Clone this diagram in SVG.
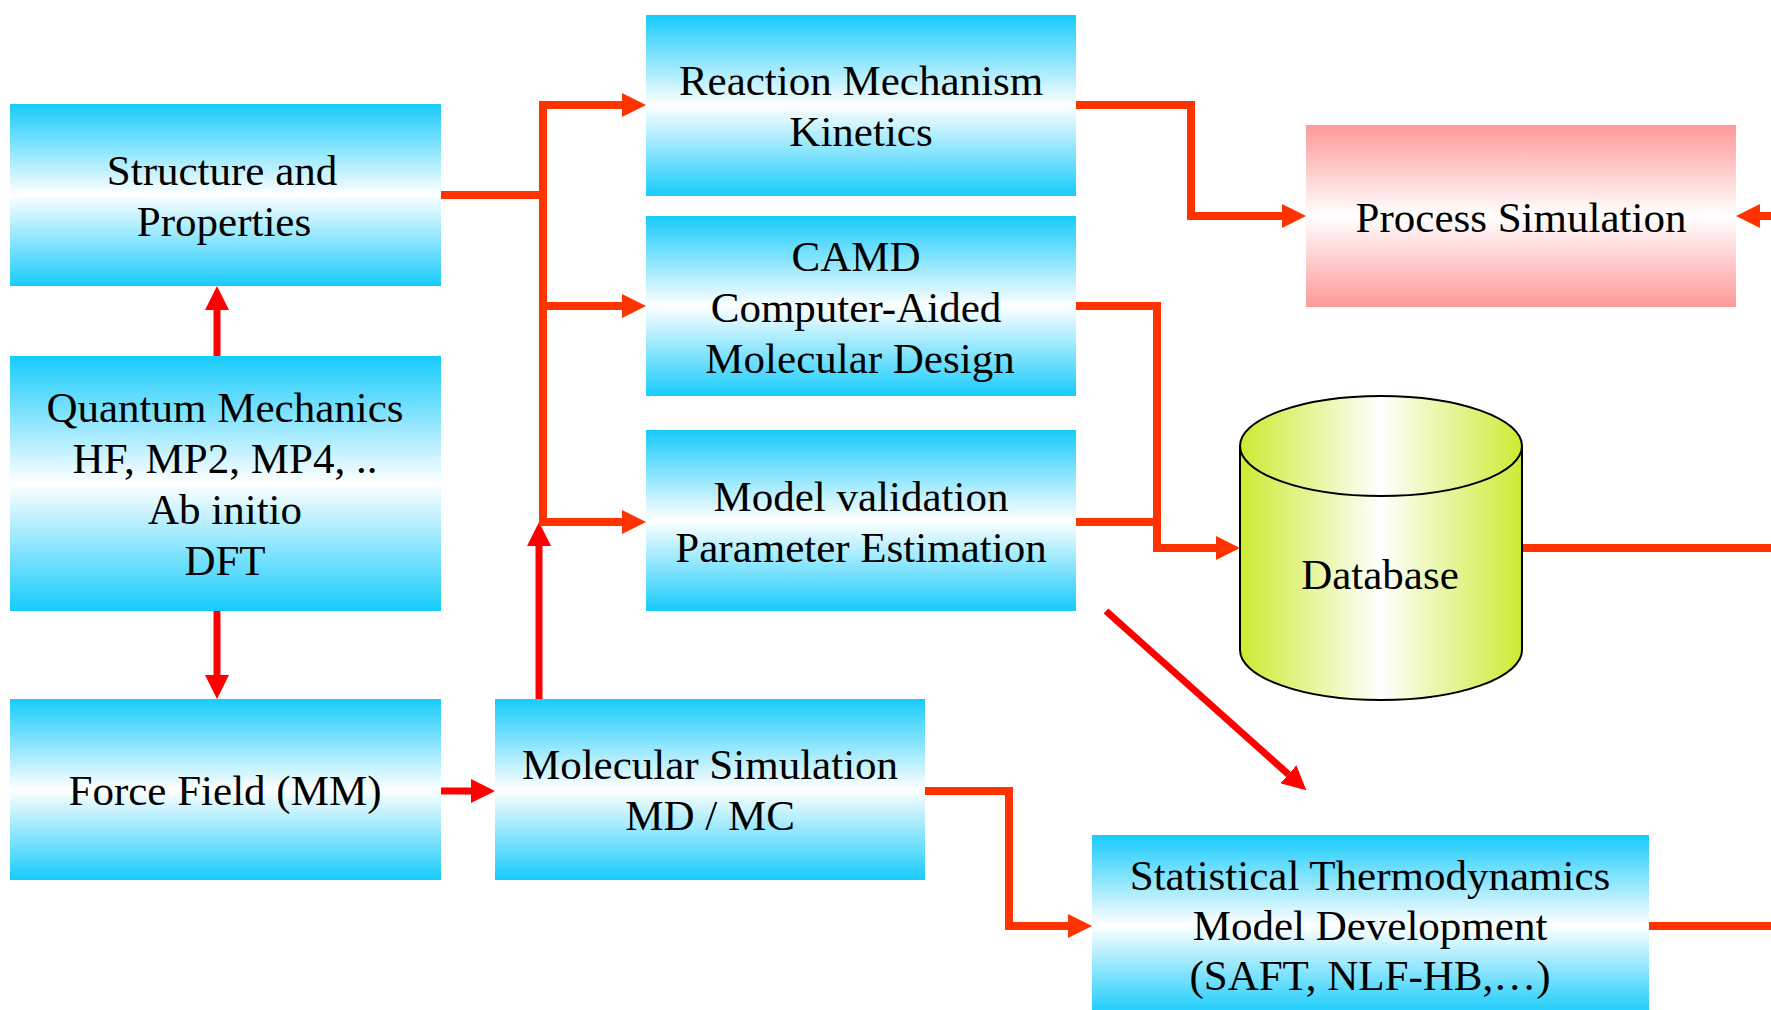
<svg xmlns="http://www.w3.org/2000/svg" width="1771" height="1010" viewBox="0 0 1771 1010">
  <defs>
    <linearGradient id="gBlue" x1="0" y1="0" x2="0" y2="1">
      <stop offset="0" stop-color="#17CBFB"/>
      <stop offset="0.5" stop-color="#FFFFFF"/>
      <stop offset="1" stop-color="#17CBFB"/>
    </linearGradient>
    <linearGradient id="gPink" x1="0" y1="0" x2="0" y2="1">
      <stop offset="0" stop-color="#FE9999"/>
      <stop offset="0.5" stop-color="#FFFFFF"/>
      <stop offset="1" stop-color="#FE9999"/>
    </linearGradient>
    <linearGradient id="gLime" x1="0" y1="0" x2="1" y2="0">
      <stop offset="0" stop-color="#CCEB33"/>
      <stop offset="0.5" stop-color="#FFFFFF"/>
      <stop offset="1" stop-color="#CCEB33"/>
    </linearGradient>
    <marker id="headOrange" viewBox="0 0 24 24" refX="0" refY="12" markerWidth="24" markerHeight="24" markerUnits="userSpaceOnUse" orient="auto">
      <path d="M0,0 L24,12 L0,24 Z" fill="#FF3300"/>
    </marker>
    <marker id="headRed" viewBox="0 0 24 24" refX="0" refY="12" markerWidth="24" markerHeight="24" markerUnits="userSpaceOnUse" orient="auto">
      <path d="M0,0 L24,12 L0,24 Z" fill="#FF0000"/>
    </marker>
    <style>
      .box { fill: url(#gBlue); }
      .pink { fill: url(#gPink); }
      .lbl { font-family: "Liberation Serif", "Times New Roman", serif; font-size: 43px; fill: #000; text-anchor: middle; }
      .wire { fill: none; stroke: #FF3300; stroke-width: 8; stroke-linejoin: miter; }
      .wire.a { marker-end: url(#headOrange); }
      .red { fill: none; stroke: #FF0000; stroke-width: 7; marker-end: url(#headRed); }
    </style>
  </defs>

  <!-- connectors -->
  <g id="connectors">
    <path class="red" d="M217,356 V310"/>
    <path class="red" d="M217,611 V675"/>
    <path class="red" d="M441,791 H471"/>
    <path class="red" d="M539,699 V546"/>
    <path class="wire" d="M441,195 H543"/>
    <path class="wire a" d="M543,526 V105 H622"/>
    <path class="wire a" d="M543,306 H622"/>
    <path class="wire a" d="M543,522 H622"/>
    <path class="wire a" d="M1076,105 H1191 V216 H1282"/>
    <path class="wire a" d="M1771,216 H1760"/>
    <path class="wire a" d="M1076,306 H1157 V548 H1216"/>
    <path class="wire" d="M1076,522 H1157"/>
    <path class="wire" d="M1522,548 H1771"/>
    <path class="red" d="M1106,611 L1288.4,774.3"/>
    <path class="wire a" d="M925,791 H1009 V926 H1068"/>
    <path class="wire" d="M1649,926 H1771"/>
  </g>

  <g id="structure">
    <rect class="box" x="10" y="104" width="431" height="182"/>
    <text class="lbl" x="222" y="185">Structure and</text>
    <text class="lbl" x="224" y="236">Properties</text>
  </g>

  <g id="quantum">
    <rect class="box" x="10" y="356" width="431" height="255"/>
    <text class="lbl" x="225" y="422">Quantum Mechanics</text>
    <text class="lbl" x="225" y="473">HF, MP2, MP4, ..</text>
    <text class="lbl" x="225" y="524">Ab initio</text>
    <text class="lbl" x="225" y="575">DFT</text>
  </g>

  <g id="forcefield">
    <rect class="box" x="10" y="699" width="431" height="181"/>
    <text class="lbl" x="225" y="805">Force Field (MM)</text>
  </g>

  <g id="molsim">
    <rect class="box" x="495" y="699" width="430" height="181"/>
    <text class="lbl" x="710" y="779">Molecular Simulation</text>
    <text class="lbl" x="710" y="830">MD / MC</text>
  </g>

  <g id="reaction">
    <rect class="box" x="646" y="15" width="430" height="181"/>
    <text class="lbl" x="861" y="95">Reaction Mechanism</text>
    <text class="lbl" x="861" y="146">Kinetics</text>
  </g>

  <g id="camd">
    <rect class="box" x="646" y="216" width="430" height="180"/>
    <text class="lbl" x="856" y="271">CAMD</text>
    <text class="lbl" x="856" y="322">Computer-Aided</text>
    <text class="lbl" x="860" y="373">Molecular Design</text>
  </g>

  <g id="validation">
    <rect class="box" x="646" y="430" width="430" height="181"/>
    <text class="lbl" x="861" y="511">Model validation</text>
    <text class="lbl" x="861" y="562">Parameter Estimation</text>
  </g>

  <g id="process">
    <rect class="pink" x="1306" y="125" width="430" height="182"/>
    <text class="lbl" x="1521" y="232">Process Simulation</text>
  </g>

  <g id="database">
    <path d="M1240,446 V650 A141,50 0 0 0 1522,650 V446" fill="url(#gLime)" stroke="#000" stroke-width="2"/>
    <ellipse cx="1381" cy="446" rx="141" ry="50" fill="url(#gLime)" stroke="#000" stroke-width="2"/>
    <text class="lbl" x="1380" y="589">Database</text>
  </g>

  <g id="statthermo">
    <rect class="box" x="1092" y="835" width="557" height="180"/>
    <text class="lbl" x="1370" y="890">Statistical Thermodynamics</text>
    <text class="lbl" x="1370" y="940">Model Development</text>
    <text class="lbl" x="1370" y="990">(SAFT, NLF-HB,…)</text>
  </g>
</svg>
